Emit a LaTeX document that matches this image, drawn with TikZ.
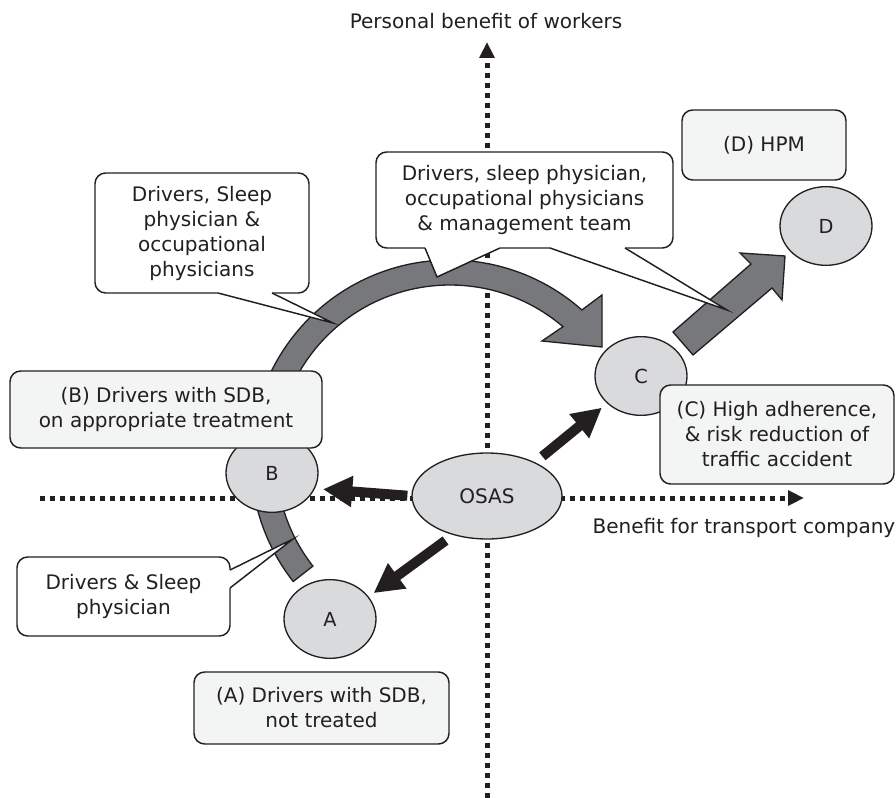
\documentclass[tikz,border=0pt]{standalone}
\usepackage{fontspec}
\setmainfont{DejaVu Sans}
\usetikzlibrary{arrows.meta,shapes.geometric,calc}

\definecolor{inkc}{HTML}{231F20}
\definecolor{ovalgray}{HTML}{D9DADC}
\definecolor{boxgray}{HTML}{F3F4F4}
\definecolor{arrowgray}{HTML}{77787B}

\tikzset{
  ovalnode/.style={ellipse,draw=inkc,line width=1pt,fill=ovalgray,inner sep=0pt,
    minimum width=69pt,minimum height=59pt,font=\fontsize{14.5pt}{17pt}\selectfont},
  tagbox/.style={rectangle,rounded corners=8pt,draw=inkc,line width=1.1pt,fill=boxgray,
    align=center,inner sep=0pt},
  callbox/.style={tagbox,fill=white},
  axisline/.style={line width=3.75pt,dash pattern=on 3.75pt off 3.75pt,
    -{Triangle[length=12pt,width=11pt]}},
  blackarrow/.style={line width=7.5pt,draw=inkc,-{Triangle[length=22pt,width=22pt]}},
  fatarrow/.style={fill=arrowgray,draw=inkc,line width=1pt},
}

\begin{document}
\begin{tikzpicture}[x=0.75pt,y=-0.75pt,font=\fontsize{15pt}{18.75pt}\selectfont,text=inkc]

\useasboundingbox (0,0) rectangle (896,798);

% axes
\coordinate (ybot) at (487,798);
\coordinate (ytop) at (487,42);
\coordinate (xleft) at (40,498);
\coordinate (xright) at (804,498);
\draw[axisline,inkc] (ybot) -- (ytop);
\draw[axisline,inkc] (xleft) -- (xright);
\node (ylab) at (486,21) {Personal benefit of workers};
\node[anchor=west] (xlab) at (588,528) {Benefit for transport company};

% curved arrow A -> B -> C
\coordinate (arcc) at (450,459);
\draw[fatarrow] ($(arcc)+(-218:199)$) arc[start angle=-218,end angle=-48.5,radius=199]
  -- (602,295) -- (602,347) -- (542,341)
  -- ($(arcc)+(-49.5:174)$) arc[start angle=-49.5,end angle=-218,radius=174] -- cycle;

% arrow C -> D
\draw[fatarrow] (693,355) -- (673,332) -- (751,264) -- (740,253) -- (785,256)
  -- (782,300) -- (772,288) -- cycle;

% states
\node[ovalnode] (b) at (272,473) {B};
\node[ovalnode] (a) at (330,619) {A};
\node[ovalnode] (c) at (641,376) {C};
\node[ovalnode] (d) at (826,226) {D};
\node[ovalnode,minimum width=112.5pt,minimum height=64.5pt,
  font=\fontsize{15pt}{18pt}\selectfont] (osas) at (487,496) {OSAS};

\draw[blackarrow,shorten <=3pt,shorten >=6pt] (osas.180) -- (b.-20);
\draw[blackarrow,shorten <=7pt,shorten >=4.5pt] (osas.-131) -- (a.30);
\draw[blackarrow,shorten <=7pt,shorten >=5pt] (osas.35) -- (c.-141);

% labels of the states
\node[tagbox,minimum width=234pt,minimum height=57.75pt] (bb) at (166,409.5)
  {(B) Drivers with SDB,\\on appropriate treatment};
\node[tagbox,minimum width=191.25pt,minimum height=54pt] (ba) at (321.5,708)
  {(A) Drivers with SDB,\\not treated};
\node[tagbox,minimum width=175.5pt,minimum height=74.25pt] (bc) at (777,434.5)
  {(C) High adherence,\\\& risk reduction of\\traffic accident};
\node[tagbox,minimum width=123pt,minimum height=52.5pt] (bd) at (764,145) {(D) HPM};

% callouts
\node[callbox,minimum width=159.75pt,minimum height=59.25pt] (cs) at (123.5,596.5)
  {Drivers \& Sleep\\physician};
\node[callbox,minimum width=160.5pt,minimum height=90pt] (co) at (202,233)
  {Drivers, Sleep\\physician \&\\occupational\\physicians};
\node[callbox,minimum width=222.75pt,minimum height=72pt] (cm) at (524.5,200)
  {Drivers, sleep physician,\\occupational physicians\\\& management team};

\coordinate (cs1) at (230,570); \coordinate (cs2) at (230,588); \coordinate (cst) at (293,539);
\coordinate (co1) at (218,293); \coordinate (co2) at (272,293); \coordinate (cot) at (333,323);
\coordinate (cm1) at (425,248); \coordinate (cm2) at (500,248); \coordinate (cmt) at (437,277);
\coordinate (cm3) at (550,248); \coordinate (cm4) at (625,248); \coordinate (cmu) at (727,310);

\foreach \p/\q/\t/\dx/\dy in {cs1/cs2/cst/-3/0, co1/co2/cot/0/-3, cm1/cm2/cmt/0/-3, cm3/cm4/cmu/0/-3}
{
  \fill[white] ($(\p)+(\dx,\dy)$) -- (\p) -- (\t) -- (\q) -- ($(\q)+(\dx,\dy)$) -- cycle;
  \draw[inkc,line width=1.1pt] (\p) -- (\t) -- (\q);
}

\end{tikzpicture}
\end{document}
